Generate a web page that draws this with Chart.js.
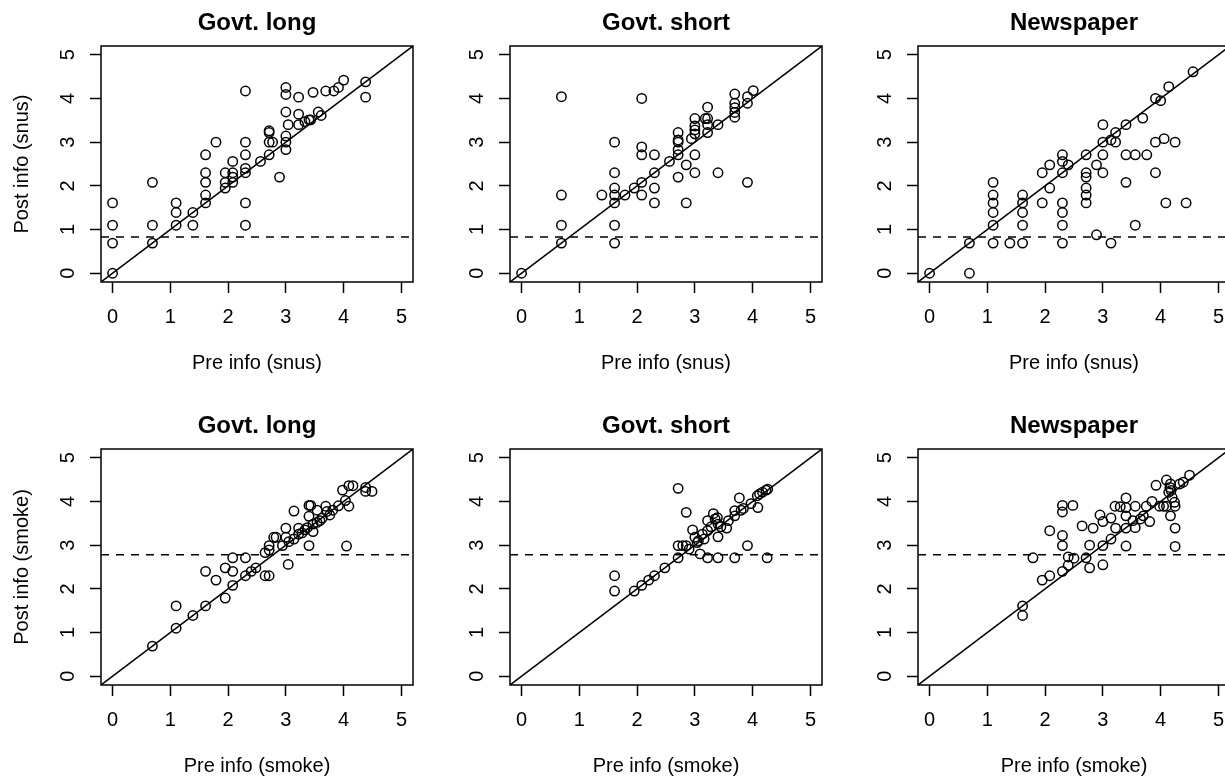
<!DOCTYPE html>
<html>
<head>
<meta charset="utf-8">
<script src="https://cdn.jsdelivr.net/npm/chart.js@4.4.1/dist/chart.umd.min.js"></script>
<style>
    html, body { margin: 0; padding: 0; background: #fff; overflow: hidden; }
    #wrap { position: relative; width: 1225px; height: 776px; overflow: hidden; }
    canvas { position: absolute; }
</style>
</head>
<body>
<div id="wrap">
    <canvas id="p1" width="420" height="402" style="left:0px;top:0px"></canvas>
    <canvas id="p2" width="420" height="402" style="left:409px;top:0px"></canvas>
    <canvas id="p3" width="420" height="402" style="left:817px;top:0px"></canvas>
    <canvas id="p4" width="420" height="402" style="left:0px;top:403px"></canvas>
    <canvas id="p5" width="420" height="402" style="left:409px;top:403px"></canvas>
    <canvas id="p6" width="420" height="402" style="left:817px;top:403px"></canvas>
</div>
<script>
// Data (log scale scores)
const titles = ['Govt. long', 'Govt. short', 'Newspaper'];
const tickValues = [0, 1, 2, 3, 4, 5];
const dashLevels = [0.83, 2.78]; // snus row, smoke row

const snusLongPre = [0, 0, 0, 0, 0.69, 0.69, 0.69, 1.1, 1.1, 1.1,
    1.39, 1.39, 1.61, 1.61, 1.61, 1.61, 1.61, 1.79, 1.95, 1.95,
    1.95, 2.08, 2.08, 2.08, 2.08, 2.3, 2.3, 2.3, 2.3, 2.3,
    2.3, 2.3, 2.56, 2.71, 2.71, 2.77, 2.71, 2.71, 2.89, 3.0,
    3.0, 3.0, 3.0, 3.0, 3.0, 3.04, 3.22, 3.22, 3.22, 3.33,
    3.4, 3.43, 3.47, 3.56, 3.61, 3.69, 3.83, 3.91, 4.0, 4.38,
    4.38];
const snusLongPost = [0, 0.69, 1.1, 1.61, 0.69, 1.1, 2.08, 1.1, 1.39, 1.61,
    1.1, 1.39, 1.61, 1.79, 2.08, 2.3, 2.71, 3.0, 1.95, 2.08,
    2.3, 2.08, 2.2, 2.3, 2.56, 1.1, 1.61, 2.3, 2.4, 2.71,
    3.0, 4.17, 2.56, 2.71, 3.0, 3.0, 3.22, 3.26, 2.2, 2.83,
    3.0, 3.14, 3.69, 4.09, 4.25, 3.4, 3.4, 3.64, 4.03, 3.47,
    3.51, 3.51, 4.14, 3.69, 3.61, 4.17, 4.17, 4.25, 4.42, 4.38,
    4.03];

const snusShortPre = [0, 0.69, 0.69, 0.69, 0.69, 1.39, 1.61, 1.61, 1.61, 1.61,
    1.61, 1.61, 1.61, 1.79, 1.95, 2.08, 2.08, 2.08, 2.08, 2.08,
    2.3, 2.3, 2.3, 2.3, 2.56, 2.71, 2.71, 2.71, 2.71, 2.71,
    2.71, 2.85, 2.85, 2.94, 3.0, 3.0, 3.0, 3.0, 3.0, 3.0,
    3.18, 3.22, 3.22, 3.22, 3.22, 3.4, 3.4, 3.69, 3.69, 3.69,
    3.69, 3.69, 3.91, 3.91, 3.91, 4.01];
const snusShortPost = [0, 0.69, 1.1, 1.79, 4.04, 1.79, 0.69, 1.1, 1.61, 1.79,
    1.95, 2.3, 3.0, 1.79, 1.95, 1.79, 2.08, 2.71, 2.89, 4.0,
    1.61, 1.95, 2.3, 2.71, 2.56, 2.2, 2.71, 2.83, 3.0, 3.05,
    3.22, 1.61, 2.48, 3.08, 2.3, 2.71, 3.19, 3.28, 3.37, 3.54,
    3.54, 3.22, 3.4, 3.54, 3.8, 3.4, 2.3, 3.57, 3.68, 3.79,
    3.89, 4.1, 2.08, 3.89, 4.04, 4.18];

const snusNewsPre = [0, 0.69, 0.69, 1.1, 1.1, 1.1, 1.1, 1.1, 1.1, 1.39,
    1.61, 1.61, 1.61, 1.61, 1.61, 1.95, 1.95, 2.08, 2.08, 2.3,
    2.3, 2.3, 2.3, 2.3, 2.3, 2.3, 2.4, 2.71, 2.71, 2.71,
    2.71, 2.71, 2.71, 2.89, 2.89, 3.0, 3.0, 3.0, 3.0, 3.14,
    3.14, 3.22, 3.22, 3.4, 3.4, 3.4, 3.56, 3.56, 3.69, 3.76,
    3.91, 3.91, 3.91, 4.0, 4.06, 4.09, 4.14, 4.25, 4.44, 4.56];
const snusNewsPost = [0, 0, 0.69, 0.69, 1.1, 1.39, 1.61, 1.79, 2.08, 0.69,
    0.69, 1.1, 1.39, 1.61, 1.79, 1.61, 2.3, 1.95, 2.48, 0.69,
    1.1, 1.39, 1.61, 2.3, 2.56, 2.71, 2.48, 1.61, 1.79, 1.95,
    2.2, 2.3, 2.71, 0.88, 2.48, 2.3, 2.71, 3.0, 3.4, 0.69,
    3.05, 3.0, 3.22, 2.08, 2.71, 3.4, 1.1, 2.71, 3.55, 2.71,
    2.3, 3.0, 4.0, 3.95, 3.08, 1.61, 4.27, 3.0, 1.61, 4.61];

const smokeLongPre = [0.69, 1.1, 1.1, 1.39, 1.61, 1.61, 1.79, 1.95, 1.95, 2.08,
    2.08, 2.08, 2.3, 2.3, 2.4, 2.48, 2.64, 2.71, 2.64, 2.71,
    2.71, 2.83, 2.79, 2.94, 3.0, 3.0, 3.04, 3.05, 3.14, 3.22,
    3.28, 3.33, 3.14, 3.22, 3.4, 3.4, 3.4, 3.43, 3.47, 3.47,
    3.54, 3.54, 3.59, 3.69, 3.71, 3.76, 3.81, 3.91, 3.98, 4.03,
    4.05, 4.09, 4.09, 4.16, 4.38, 4.38, 4.49, 3.37, 3.63];
const smokeLongPost = [0.69, 1.1, 1.61, 1.39, 1.61, 2.4, 2.2, 1.79, 2.48, 2.08,
    2.4, 2.71, 2.71, 2.3, 2.4, 2.48, 2.3, 2.3, 2.83, 2.89,
    2.99, 3.18, 3.18, 2.99, 3.39, 3.18, 2.56, 3.08, 3.14, 3.25,
    3.28, 3.35, 3.78, 3.39, 2.99, 3.66, 3.91, 3.91, 3.48, 3.31,
    3.52, 3.8, 3.56, 3.89, 3.77, 3.69, 3.8, 3.9, 4.26, 4.02,
    2.98, 3.89, 4.36, 4.36, 4.32, 4.23, 4.23, 3.4, 3.62];

const smokeShortPre = [1.61, 1.61, 1.95, 2.08, 2.2, 2.3, 2.48, 2.71, 2.71, 2.71,
    2.85, 2.85, 2.9, 2.96, 3.0, 3.04, 3.09, 3.13, 3.16, 3.22,
    3.22, 3.22, 3.28, 3.32, 3.39, 3.4, 3.4, 3.4, 3.45, 3.55,
    3.58, 3.69, 3.69, 3.69, 3.77, 3.8, 3.84, 3.91, 3.97, 4.09,
    4.08, 4.12, 4.17, 4.23, 4.26, 4.25, 2.79, 3.06, 3.35];
const smokeShortPost = [1.95, 2.3, 1.95, 2.08, 2.2, 2.3, 2.48, 2.71, 2.99, 4.3,
    2.99, 3.75, 2.91, 3.35, 3.18, 3.06, 2.8, 3.25, 3.14, 2.71,
    3.56, 3.33, 3.42, 3.72, 3.63, 2.71, 3.19, 3.48, 3.42, 3.39,
    3.56, 2.71, 3.67, 3.79, 4.08, 3.8, 3.84, 2.99, 3.95, 3.86,
    4.13, 4.17, 4.21, 4.26, 4.28, 2.71, 2.99, 3.1, 3.6];

const smokeNewsPre = [1.61, 1.61, 1.79, 1.95, 2.08, 2.08, 2.3, 2.3, 2.3, 2.3,
    2.3, 2.4, 2.4, 2.48, 2.5, 2.64, 2.71, 2.77, 2.77, 2.83,
    2.95, 3.0, 3.0, 3.0, 3.14, 3.14, 3.22, 3.21, 3.3, 3.4,
    3.4, 3.4, 3.4, 3.4, 3.56, 3.56, 3.52, 3.65, 3.7, 3.75,
    3.81, 3.85, 3.92, 3.98, 4.1, 4.1, 4.14, 4.16, 4.17, 4.2,
    4.24, 4.25, 4.25, 4.25, 4.33, 4.39, 4.5, 4.17, 4.18, 4.05];
const smokeNewsPost = [1.39, 1.61, 2.71, 2.2, 2.3, 3.33, 2.4, 2.99, 3.22, 3.76,
    3.91, 2.73, 2.54, 3.91, 2.7, 3.44, 2.71, 2.48, 3.0, 3.39,
    3.69, 2.99, 2.55, 3.54, 3.62, 3.14, 3.39, 3.89, 3.88, 4.08,
    3.86, 3.67, 3.39, 2.98, 3.89, 3.4, 3.56, 3.6, 3.67, 3.89,
    3.54, 4.0, 4.37, 3.89, 3.89, 4.49, 4.21, 4.32, 3.67, 4.09,
    3.98, 3.89, 3.39, 2.97, 4.4, 4.44, 4.6, 4.4, 4.25, 3.89];

const AXIS_MIN = -0.2;
const AXIS_MAX = 5.2;
const FONT = "'Liberation Sans', Arial, Helvetica, sans-serif";
const LW = 1.5;

// box round the plot area + bold panel title, R style
const boxPlugin = {
    id: 'rbox',
    afterDatasetsDraw(chart, args, opts) {
        const { ctx, chartArea: a } = chart;
        ctx.save();
        ctx.strokeStyle = '#000';
        ctx.lineWidth = LW;
        ctx.strokeRect(a.left, a.top, a.right - a.left, a.bottom - a.top);
        ctx.fillStyle = '#000';
        ctx.font = `bold 24px ${FONT}`;
        ctx.textAlign = 'center';
        ctx.textBaseline = 'alphabetic';
        ctx.fillText(opts.text, (a.left + a.right) / 2, 29.5);
        ctx.restore();
    }
};

const axisBase = (title, titlePadding) => ({
    type: 'linear',
    min: AXIS_MIN,
    max: AXIS_MAX,
    afterBuildTicks: s => { s.ticks = tickValues.map(v => ({ value: v })); },
    grid: { drawOnChartArea: false, drawTicks: true, tickLength: 11, tickColor: '#000', tickWidth: LW },
    border: { display: false },
    title: {
        display: !!title, text: title, color: '#000',
        font: { family: FONT, size: 20 }, padding: titlePadding
    }
});

const makePanel = (id, title, xTitle, yTitle, xs, ys, dashLevel) => {
    const points = xs.map((x, i) => ({ x: x, y: ys[i] }));

    const xAxis = axisBase(xTitle, { top: 0, bottom: 27 });
    xAxis.afterFit = s => { s.height = 120; };
    xAxis.ticks = { color: '#000', font: { family: FONT, size: 20 }, padding: 12, maxRotation: 0, autoSkip: false };

    const yAxis = axisBase(yTitle, { top: 10, bottom: 0 });
    yAxis.afterFit = s => { s.width = 101; };
    yAxis.ticks = { color: '#000', font: { family: FONT, size: 20 }, padding: 16,
        minRotation: 90, maxRotation: 90, crossAlign: 'center', autoSkip: false };

    new Chart(document.getElementById(id), {
        type: 'scatter',
        data: {
            datasets: [
                {
                    data: points,
                    pointStyle: 'circle',
                    pointRadius: 4.7,
                    pointBorderWidth: LW,
                    borderColor: '#000',
                    backgroundColor: 'rgba(0,0,0,0)'
                },
                {
                    data: [{ x: AXIS_MIN, y: AXIS_MIN }, { x: AXIS_MAX, y: AXIS_MAX }],
                    showLine: true,
                    pointRadius: 0,
                    borderColor: '#000',
                    borderWidth: LW
                },
                {
                    data: [{ x: AXIS_MIN, y: dashLevel }, { x: AXIS_MAX, y: dashLevel }],
                    showLine: true,
                    pointRadius: 0,
                    borderColor: '#000',
                    borderWidth: LW,
                    borderDash: [8, 7]
                }
            ]
        },
        options: {
            responsive: false,
            animation: false,
            events: [],
            layout: { padding: { top: 46, right: 7, left: 0, bottom: 0 } },
            plugins: {
                legend: { display: false },
                tooltip: { enabled: false },
                rbox: { text: title }
            },
            scales: { x: xAxis, y: yAxis }
        },
        plugins: [boxPlugin]
    });
};

makePanel('p1', titles[0], 'Pre info (snus)', 'Post info (snus)', snusLongPre, snusLongPost, dashLevels[0]);
makePanel('p2', titles[1], 'Pre info (snus)', '', snusShortPre, snusShortPost, dashLevels[0]);
makePanel('p3', titles[2], 'Pre info (snus)', '', snusNewsPre, snusNewsPost, dashLevels[0]);
makePanel('p4', titles[0], 'Pre info (smoke)', 'Post info (smoke)', smokeLongPre, smokeLongPost, dashLevels[1]);
makePanel('p5', titles[1], 'Pre info (smoke)', '', smokeShortPre, smokeShortPost, dashLevels[1]);
makePanel('p6', titles[2], 'Pre info (smoke)', '', smokeNewsPre, smokeNewsPost, dashLevels[1]);
</script>
</body>
</html>
